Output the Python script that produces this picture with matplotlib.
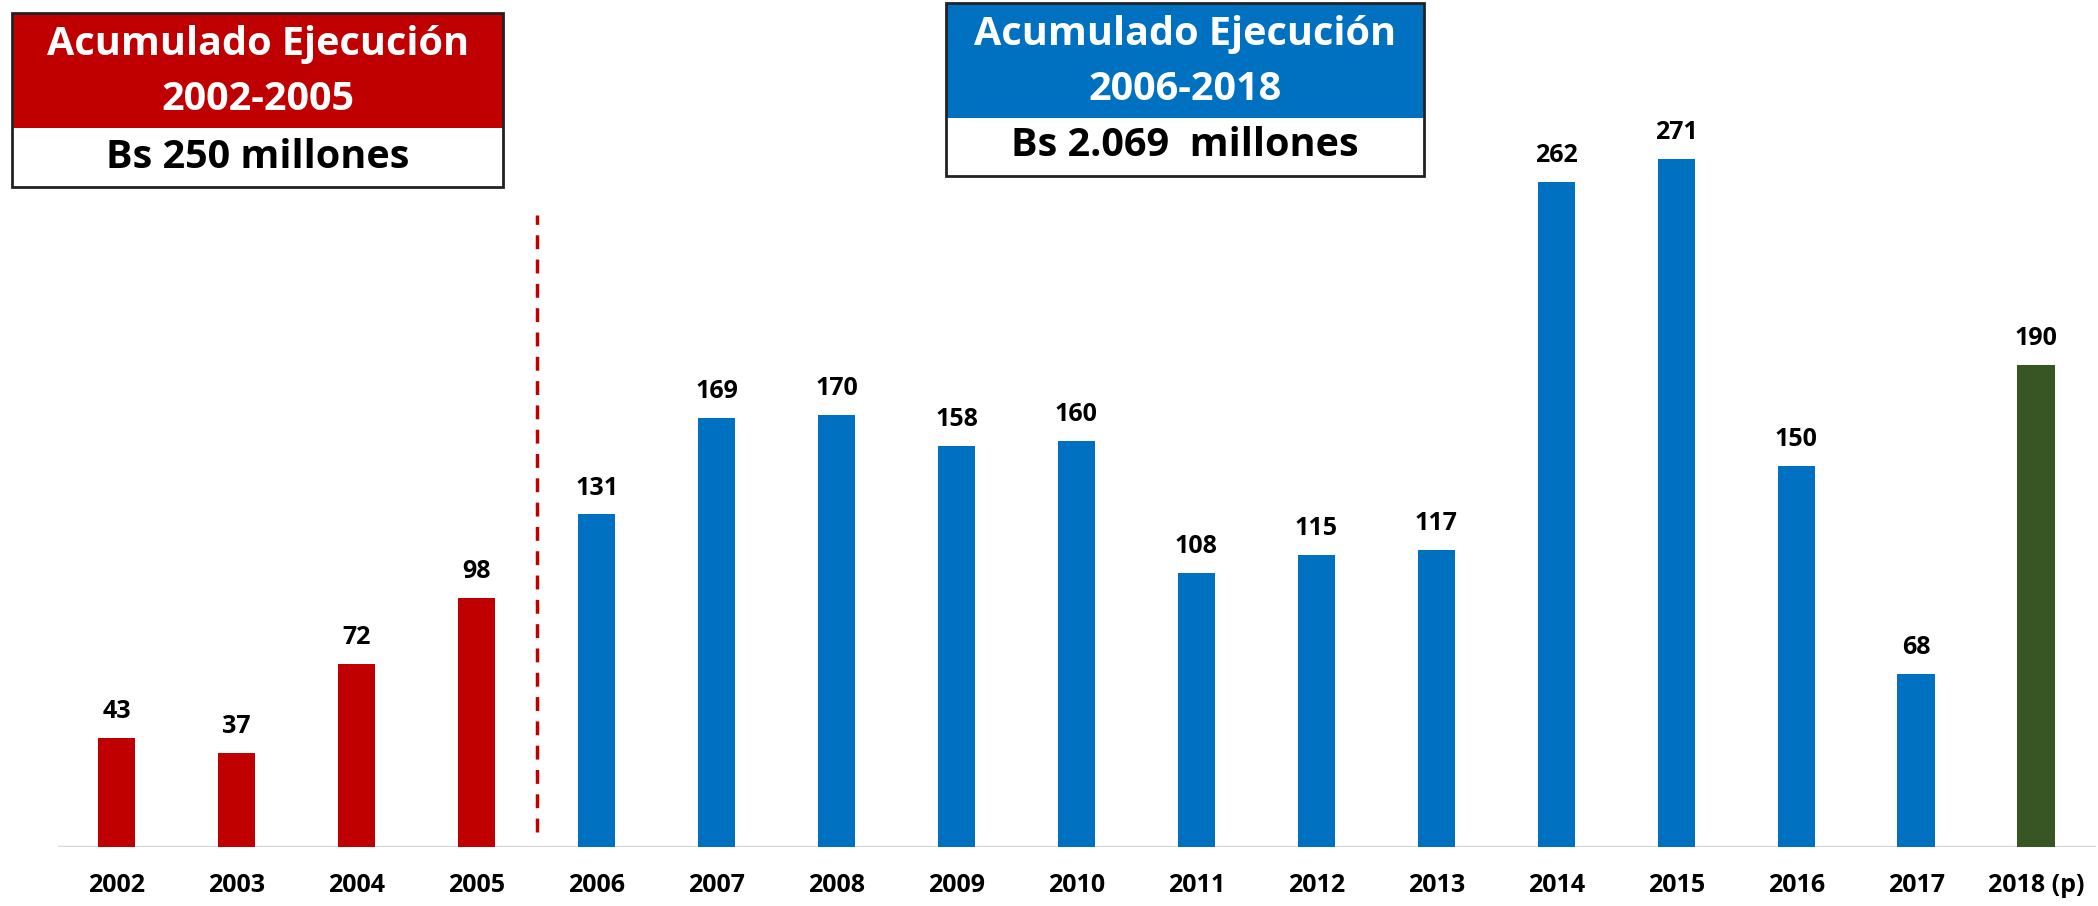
import matplotlib
matplotlib.use("Agg")
import matplotlib.pyplot as plt
from matplotlib.patches import Rectangle

# Datos
years = ["2002", "2003", "2004", "2005", "2006", "2007", "2008", "2009", "2010",
         "2011", "2012", "2013", "2014", "2015", "2016", "2017", "2018 (p)"]
values = [43, 37, 72, 98, 131, 169, 170, 158, 160, 108, 115, 117, 262, 271, 150, 68, 190]
groups = ["a"] * 4 + ["b"] * 12 + ["c"]

colors = {"a": "#C00000", "b": "#0070C0", "c": "#375623"}

plt.rcParams['font.family'] = ['Open Sans', 'DejaVu Sans']

fig = plt.figure(figsize=(20.98, 9.06), dpi=100)
ax = fig.add_axes([58 / 2098, (906 - 847) / 906, (2096 - 58) / 2098, 847 / 906],
                  frame_on=False)

x = range(len(years))
ax.bar(x, values, width=0.31, color=[colors[g] for g in groups], zorder=2)
for i, v in zip(x, values):
    ax.annotate(str(v), (i, v), xytext=(0, 10), textcoords="offset points",
                ha="center", va="bottom", fontsize=18, fontweight="bold")

ax.set_xlim(-0.49, 16.5)
ax.set_ylim(0, 333.6)
ax.axhline(0, color="#D9D9D9", lw=2.5, zorder=1)
ax.vlines(3.5, 6, 249, colors="#C00000", linestyles=(0, (4, 3)), lw=2.5)

ax.set_yticks([])
ax.set_xticks(list(x))
ax.set_xticklabels(years, fontsize=18, fontweight="bold")
ax.tick_params(axis="x", length=0, pad=19)

# Cuadros de texto
ov = fig.add_axes([0, 0, 1, 1], facecolor="none")
ov.set_xlim(0, 2098)
ov.set_ylim(906, 0)
ov.axis("off")

ov.add_patch(Rectangle((12, 13), 491, 115, facecolor="#C00000", edgecolor="none"))
ov.add_patch(Rectangle((12, 128), 491, 59, facecolor="white", edgecolor="none"))
ov.add_patch(Rectangle((12, 13), 491, 174, facecolor="none", edgecolor="#222222", lw=2))
ov.text(258, 44, "Acumulado Ejecución", ha="center", va="center", color="white",
        fontsize=28.5, fontweight="bold")
ov.text(258, 99, "2002-2005", ha="center", va="center", color="white",
        fontsize=28.5, fontweight="bold")
ov.text(258, 157, "Bs 250 millones", ha="center", va="center", color="black",
        fontsize=28.5, fontweight="bold")

ov.add_patch(Rectangle((946, 3), 478, 115, facecolor="#0070C0", edgecolor="none"))
ov.add_patch(Rectangle((946, 118), 478, 58, facecolor="white", edgecolor="none"))
ov.add_patch(Rectangle((946, 3), 478, 173, facecolor="none", edgecolor="#222222", lw=2))
ov.text(1185, 35, "Acumulado Ejecución", ha="center", va="center", color="white",
        fontsize=28.5, fontweight="bold")
ov.text(1185, 89, "2006-2018", ha="center", va="center", color="white",
        fontsize=28.5, fontweight="bold")
ov.text(1185, 146, "Bs 2.069  millones", ha="center", va="center", color="black",
        fontsize=28.5, fontweight="bold")

fig.savefig("out.png", dpi=100)
